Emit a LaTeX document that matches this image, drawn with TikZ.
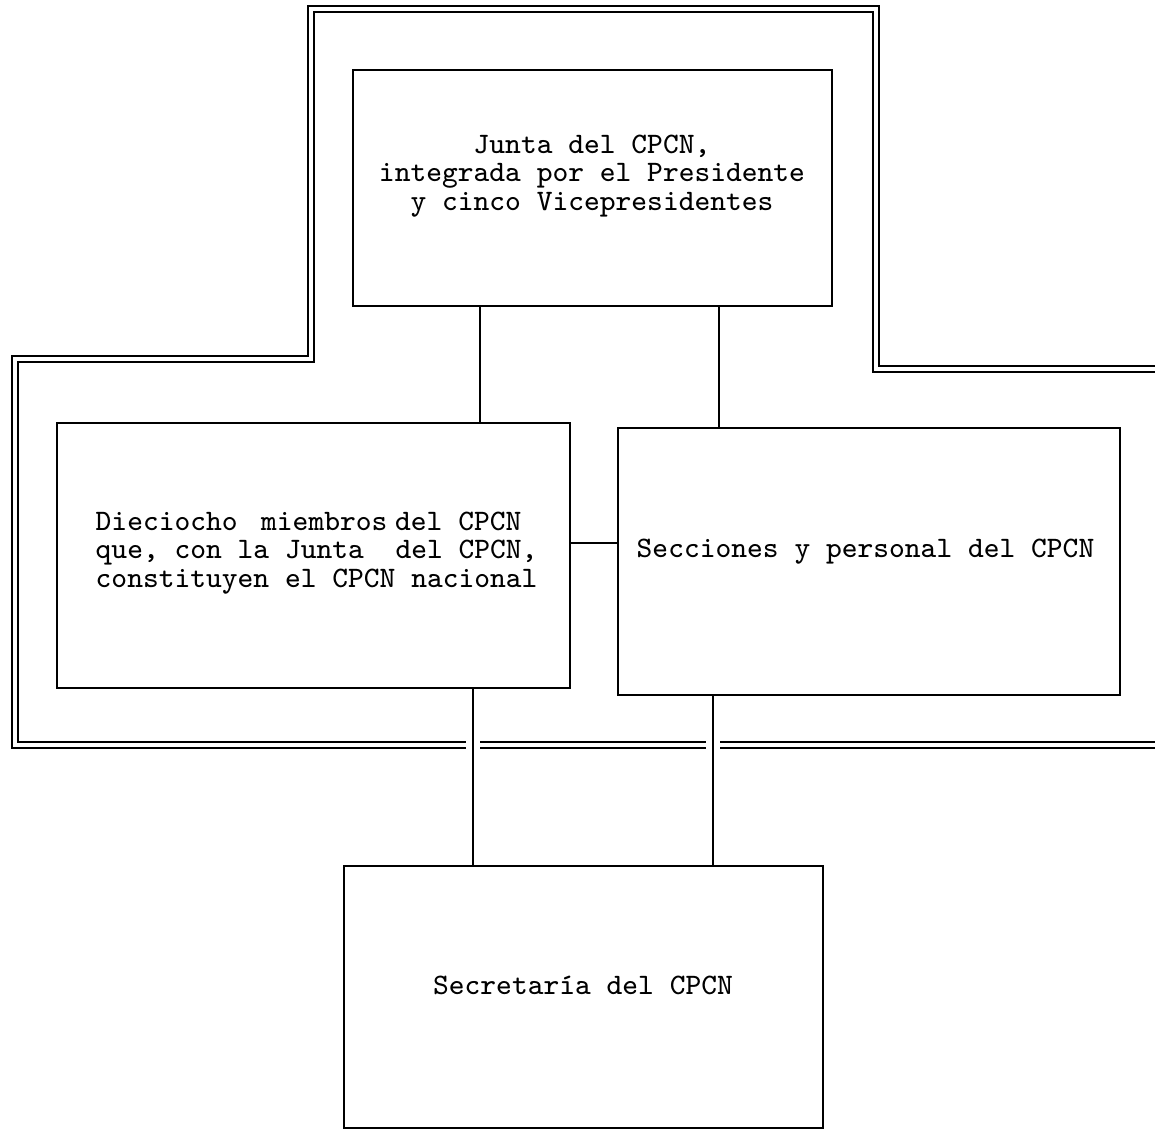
\documentclass[tikz,border=0pt]{standalone}
\usepackage{fontspec}
\begin{document}
\begin{tikzpicture}[
  x=0.01cm, y=-0.01cm,
  caja/.style={rectangle,draw,line width=0.6pt,inner sep=0pt},
  texto/.style={font=\fontsize{8.45}{8.1}\selectfont\ttfamily,inner sep=0pt},
  marco/.style={draw,line width=0.5pt,double,double distance=1.1pt},
  enlace/.style={line width=0.6pt},
  cruce/.style={enlace,preaction={draw=white,line width=4pt,
                shorten <=1pt,shorten >=1pt}}
]
  \useasboundingbox (0,0) rectangle (1155,1133);

  \draw[marco] (1155,369) -- (876,369) -- (876,9) -- (311,9) -- (311,359)
    -- (15,359) -- (15,745) -- (1155,745);

  \node[caja,minimum width=4.79cm,minimum height=2.36cm] (junta) at (592.5,188) {};
  \node[caja,minimum width=5.13cm,minimum height=2.65cm] (dieciocho) at (313.5,555.5) {};
  \node[caja,minimum width=5.02cm,minimum height=2.67cm] (secciones) at (869,561.5) {};
  \node[caja,minimum width=4.79cm,minimum height=2.62cm] (secretaria) at (583.5,997) {};

  \node[texto,align=center] (juntatxt) at (592,176)
    {Junta del CPCN,\\integrada por el Presidente\\y cinco Vicepresidentes};
  \node[texto,align=left,anchor=west] (dieciochotxt) at (95,553)
    {Dieciocho\hspace{0.79em}miembros\hspace{0.26em}del CPCN\\
     que, con la Junta\ \ del CPCN,\\constituyen el CPCN nacional};
  \node[texto,anchor=west] (seccionestxt) at (636,552)
    {Secciones y personal del CPCN};
  \node[texto] (secretariatxt) at (583,985) {Secretaría del CPCN};

  \coordinate (c1) at (480,0);
  \coordinate (c2) at (719,0);
  \coordinate (c3) at (473,0);
  \coordinate (c4) at (713,0);
  \coordinate (c5) at (0,543);

  \draw[enlace] (junta.south -| c1) -- (dieciocho.north -| c1);
  \draw[enlace] (junta.south -| c2) -- (secciones.north -| c2);
  \draw[enlace] (dieciocho.east |- c5) -- (secciones.west |- c5);
  \draw[cruce] (dieciocho.south -| c3) -- (secretaria.north -| c3);
  \draw[cruce] (secciones.south -| c4) -- (secretaria.north -| c4);
\end{tikzpicture}
\end{document}
